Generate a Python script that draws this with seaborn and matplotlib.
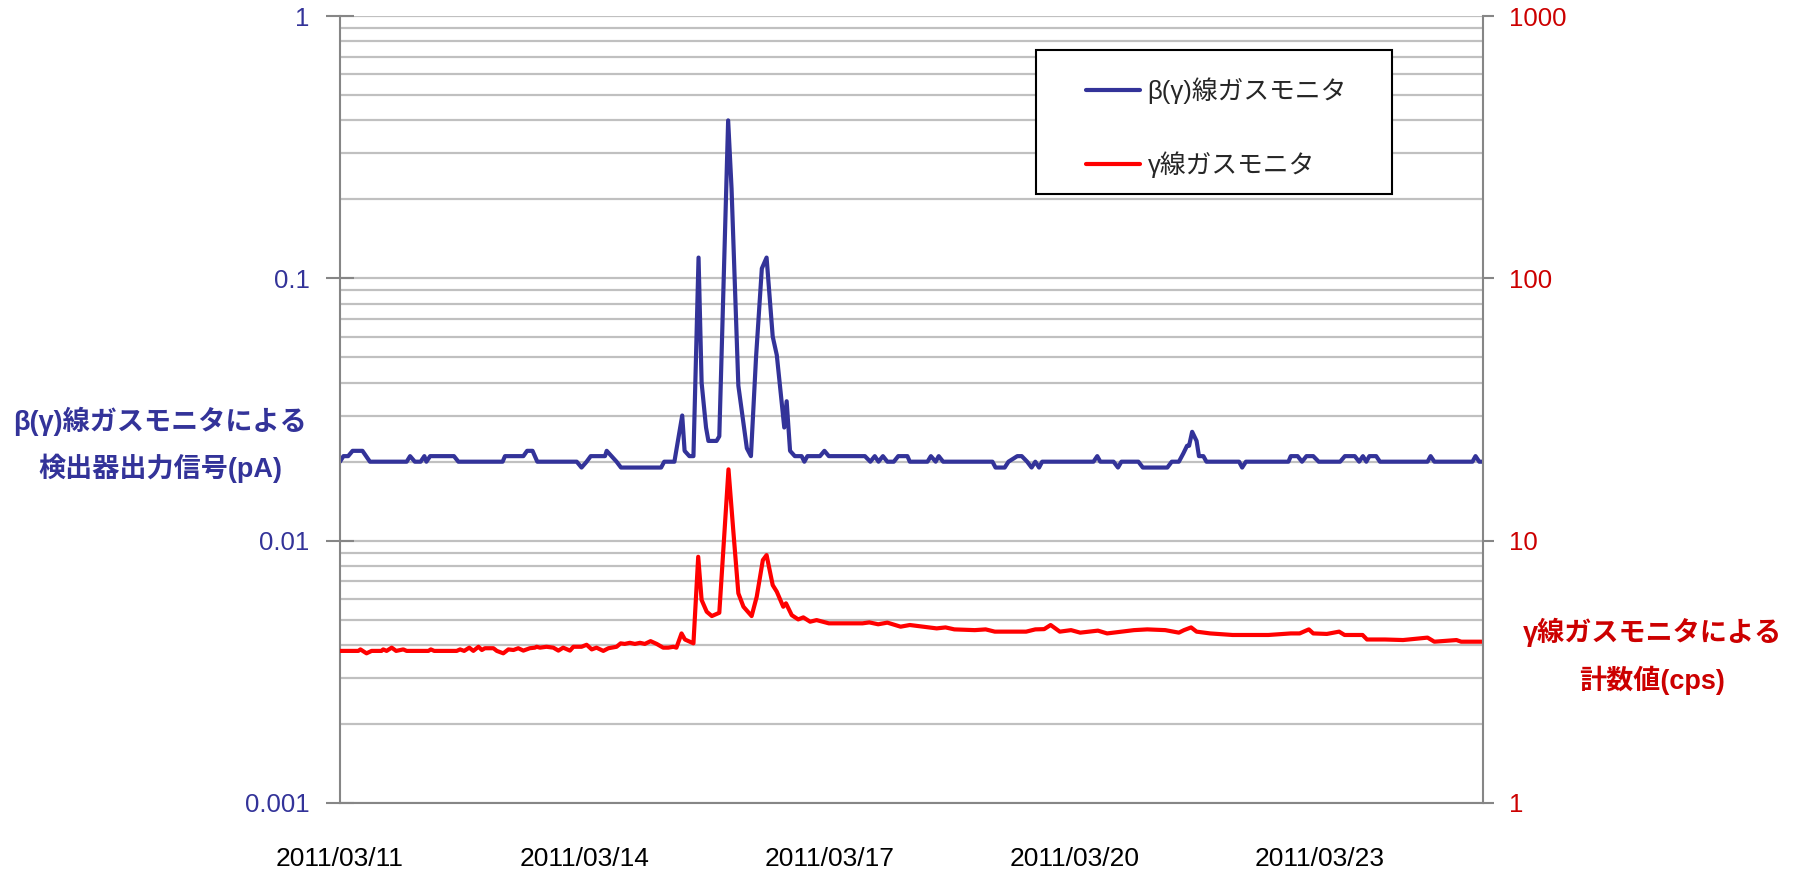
import numpy as np
import pandas as pd
import matplotlib
matplotlib.use('Agg')
import matplotlib.pyplot as plt
import matplotlib.dates as mdates
import matplotlib.ticker as mticker
from matplotlib.patches import Rectangle
import seaborn as sns

# ---------------- data ----------------
start = '2011-03-11 00:00'
end = '2011-03-25 00:00'

beta_hours = [0, 1.0, 2.4, 3.7, 6.6, 8.8, 19.6, 20.6, 22.0, 23.7, 24.8, 25.4, 26.5, 33.5, 34.8,
              47.8, 48.5, 53.9, 55.0, 56.6, 58.0, 69.6, 71.0, 72.5, 73.7, 77.9, 78.4, 79.8, 81.3,
              82.6, 94.4, 95.3, 98.3, 100.6, 101.3, 102.7, 103.9, 105.4, 106.3, 107.6, 108.3,
              110.7, 111.5, 114.1, 115.1, 117.1, 118.6, 119.6, 120.8, 122.3, 124.0, 125.4, 127.2,
              128.4, 129.8, 130.6, 131.3, 132.3, 133.7, 135.7, 136.5, 137.4, 141.1, 142.4, 143.7,
              154.3, 155.9, 157.2, 158.3, 159.6, 160.9, 162.8, 164.1, 166.8, 167.5, 172.7, 173.7,
              175.1, 176.0, 177.3, 191.8, 192.7, 195.4, 196.5, 199.1, 200.4, 202.0, 203.3, 204.4,
              205.5, 206.4, 221.5, 222.6, 223.5, 227.4, 228.7, 229.7, 234.7, 236.0, 243.2, 244.5,
              246.6, 247.9, 249.0, 249.6, 250.5, 251.8, 252.5, 253.8, 254.7, 264.3, 265.2, 266.3,
              278.8, 279.5, 281.5, 282.8, 284.1, 286.1, 287.7, 294.0, 295.4, 298.3, 299.6, 300.7,
              301.7, 302.6, 304.6, 305.7, 319.7, 320.6, 321.7, 332.9, 333.8, 334.9, 336.0]
beta_values = [0.020, 0.021, 0.021, 0.022, 0.022, 0.020, 0.020, 0.021, 0.020, 0.020, 0.021, 0.020,
               0.021, 0.021, 0.020, 0.020, 0.021, 0.021, 0.022, 0.022, 0.020, 0.020, 0.019, 0.020,
               0.021, 0.021, 0.022, 0.021, 0.020, 0.019, 0.019, 0.020, 0.020, 0.030, 0.022, 0.021,
               0.021, 0.120, 0.040, 0.027, 0.024, 0.024, 0.025, 0.40, 0.22, 0.039, 0.028, 0.0225,
               0.021, 0.050, 0.109, 0.120, 0.060, 0.051, 0.034, 0.027, 0.034, 0.022, 0.021, 0.021,
               0.020, 0.021, 0.021, 0.022, 0.021, 0.021, 0.020, 0.021, 0.020, 0.021, 0.020, 0.020,
               0.021, 0.021, 0.020, 0.020, 0.021, 0.020, 0.021, 0.020, 0.020, 0.019, 0.019, 0.020,
               0.021, 0.021, 0.020, 0.019, 0.020, 0.019, 0.020, 0.020, 0.021, 0.020, 0.020, 0.019,
               0.020, 0.020, 0.019, 0.019, 0.020, 0.020, 0.0215, 0.023, 0.023, 0.026, 0.024, 0.021,
               0.021, 0.020, 0.020, 0.019, 0.020, 0.020, 0.021, 0.021, 0.020, 0.021, 0.021, 0.020,
               0.020, 0.021, 0.021, 0.020, 0.021, 0.020, 0.021, 0.021, 0.020, 0.020, 0.021, 0.020,
               0.020, 0.021, 0.020, 0.020]

gamma_hours = [0, 5.4, 6.0, 7.8, 9.3, 12.2, 12.7, 13.7, 15.2, 16.5, 18.6, 19.6, 26.0, 26.7, 27.7,
               34.3, 35.3, 36.5, 38.0, 39.2, 40.7, 41.7, 42.6, 45.1, 46.1, 48.0, 49.5, 51.0, 52.4,
               53.9, 55.8, 57.3, 57.8, 58.8, 60.7, 62.7, 64.2, 65.6, 67.6, 68.6, 71.0, 72.5, 74.0,
               75.4, 77.4, 78.9, 81.3, 82.5, 83.7, 85.2, 86.7, 88.2, 89.6, 91.3, 93.1, 95.0, 96.5,
               98.0, 98.9, 100.4, 101.4, 103.9, 105.3, 106.3, 107.8, 109.3, 111.5, 114.2, 115.6,
               117.1, 118.6, 121.0, 122.5, 124.3, 125.4, 127.2, 128.4, 130.3, 131.1, 132.8, 134.7,
               136.2, 138.2, 140.1, 141.1, 143.7, 153.6, 155.6, 158.2, 160.9, 164.8, 167.5, 171.4,
               175.4, 178.0, 180.6, 186.6, 189.8, 192.5, 201.7, 204.4, 207.0, 208.9, 211.6, 214.9,
               217.6, 222.8, 225.5, 233.4, 237.3, 242.6, 246.6, 248.1, 250.2, 251.8, 255.8, 262.4,
               272.9, 279.5, 282.1, 284.8, 286.1, 290.1, 293.7, 295.3, 300.6, 301.9, 307.2, 312.5,
               319.7, 321.7, 328.2, 329.6, 336.0]
gamma_values = [3.80, 3.80, 3.85, 3.72, 3.80, 3.80, 3.85, 3.80, 3.91, 3.80, 3.85, 3.80, 3.80, 3.85,
                3.80, 3.80, 3.85, 3.80, 3.91, 3.80, 3.94, 3.83, 3.89, 3.89, 3.80, 3.72, 3.85, 3.83,
                3.89, 3.81, 3.89, 3.91, 3.94, 3.91, 3.94, 3.91, 3.81, 3.91, 3.81, 3.94, 3.94, 4.01,
                3.85, 3.91, 3.80, 3.89, 3.94, 4.06, 4.04, 4.08, 4.04, 4.08, 4.04, 4.14, 4.04, 3.91,
                3.91, 3.94, 3.91, 4.43, 4.20, 4.06, 8.68, 5.94, 5.36, 5.16, 5.31, 18.7, 10.97, 6.30,
                5.60, 5.16, 6.11, 8.43, 8.81, 6.77, 6.39, 5.60, 5.77, 5.20, 5.01, 5.10, 4.91, 4.98,
                4.94, 4.84, 4.84, 4.88, 4.80, 4.87, 4.70, 4.77, 4.70, 4.63, 4.67, 4.59, 4.56, 4.59,
                4.50, 4.50, 4.59, 4.60, 4.77, 4.50, 4.56, 4.46, 4.54, 4.43, 4.56, 4.59, 4.56, 4.46,
                4.56, 4.67, 4.50, 4.43, 4.37, 4.37, 4.43, 4.43, 4.59, 4.43, 4.41, 4.50, 4.37, 4.37,
                4.20, 4.20, 4.18, 4.27, 4.12, 4.18, 4.12, 4.12]

x_tick_dates = ['2011-03-11', '2011-03-14', '2011-03-17', '2011-03-20', '2011-03-23']
x_tick_labels = ['2011/03/11', '2011/03/14', '2011/03/17', '2011/03/20', '2011/03/23']
left_tick_values = [0.001, 0.01, 0.1, 1]
left_tick_labels = ['0.001', '0.01', '0.1', '1']
right_tick_values = [1, 10, 100, 1000]
right_tick_labels = ['1', '10', '100', '1000']

beta_name = 'β(γ)線ガスモニタ'
gamma_name = 'γ線ガスモニタ'
left_label_lines = ['β(γ)線ガスモニタによる', '検出器出力信号(pA)']
right_label_lines = ['γ線ガスモニタによる', '計数値(cps)']

# ---------------- styling ----------------
sns.set_style('white')
plt.rcParams['font.family'] = ['Liberation Sans', 'Noto Sans CJK JP', 'DejaVu Sans']

BLUE = '#333399'
RED = '#ff0000'
DARKRED = '#cc0000'
AXGRAY = '#868686'
GRIDGRAY = '#c0c0c0'

t0 = pd.Timestamp(start)
df_beta = pd.DataFrame({'time': t0 + pd.to_timedelta(beta_hours, unit='h'), 'value': beta_values})
df_gamma = pd.DataFrame({'time': t0 + pd.to_timedelta(gamma_hours, unit='h'), 'value': gamma_values})

W, H = 1794, 873
fig = plt.figure(figsize=(W / 100, H / 100), dpi=100)
ax = fig.add_axes([340 / W, 1 - 803 / H, 1143 / W, 787 / H])
ax2 = ax.twinx()

sns.lineplot(data=df_beta, x='time', y='value', ax=ax, color=BLUE, linewidth=3.0,
             label=beta_name, legend=False, estimator=None)
sns.lineplot(data=df_gamma, x='time', y='value', ax=ax2, color=RED, linewidth=3.0,
             label=gamma_name, legend=False, estimator=None)

for a in (ax, ax2):
    a.set_yscale('log')
    a.set_xlabel('')
    a.set_ylabel('')
ax.set_ylim(left_tick_values[0], left_tick_values[-1])
ax2.set_ylim(right_tick_values[0], right_tick_values[-1])
ax.set_xlim(pd.Timestamp(start), pd.Timestamp(end))

# x axis
ax.set_xticks(pd.to_datetime(x_tick_dates), labels=x_tick_labels)
ax.xaxis.set_minor_locator(mdates.DayLocator())
ax.tick_params(axis='x', which='major', direction='inout', length=16, width=1.5, color=AXGRAY,
               labelsize=19, pad=24, labelcolor='black')
ax.tick_params(axis='x', which='minor', direction='in', length=8, width=1.5, color=AXGRAY)

# left y axis
ax.set_yticks(left_tick_values, labels=left_tick_labels)
ax.yaxis.set_minor_locator(mticker.LogLocator(base=10, subs=np.arange(2, 10)))
ax.yaxis.set_minor_formatter(mticker.NullFormatter())
ax.tick_params(axis='y', which='major', direction='inout', length=20, width=1.5, color=AXGRAY,
               labelsize=18.5, pad=12, labelcolor=BLUE, left=True, right=False)
ax.tick_params(axis='y', which='minor', length=0)
ax.grid(axis='y', which='both', color=GRIDGRAY, linewidth=1.6)
ax.grid(axis='x', which='both', visible=False)
ax.set_axisbelow(True)

# right y axis
ax2.set_yticks(right_tick_values, labels=right_tick_labels)
ax2.yaxis.set_minor_formatter(mticker.NullFormatter())
ax2.tick_params(axis='y', which='major', direction='out', length=8, width=1.5, color=AXGRAY,
                labelsize=18.5, pad=11, labelcolor=DARKRED)
ax2.tick_params(axis='y', which='minor', length=0)
ax2.grid(False)

for s in ('top', 'right'):
    ax.spines[s].set_visible(False)
for s in ('left', 'bottom'):
    ax.spines[s].set_color(AXGRAY)
    ax.spines[s].set_linewidth(1.5)
for s in ('top', 'left', 'bottom'):
    ax2.spines[s].set_visible(False)
ax2.spines['right'].set_color(AXGRAY)
ax2.spines['right'].set_linewidth(1.5)

# legend with a square black frame
frame = Rectangle((0.609, 0.774), 0.3115, 0.183, transform=ax2.transAxes, fill=True,
                  facecolor='white', edgecolor='black', linewidth=1.5, zorder=5)
ax2.add_patch(frame)
handles = ax.get_lines()[:1] + ax2.get_lines()[:1]
leg = ax2.legend(handles, [beta_name, gamma_name], loc='upper left',
                 bbox_to_anchor=(0.6527, 0.922), frameon=False, fontsize=18.5,
                 handlelength=2.1, handletextpad=0.3, borderpad=0, borderaxespad=0,
                 labelspacing=1.85)
leg.set_zorder(6)

# axis titles (horizontal, beside the axes)
left_y = [421, 468]
for txt, yy in zip(left_label_lines, left_y):
    fig.text(160 / W, 1 - yy / H, txt, ha='center', va='center', fontsize=19.5,
             fontweight='bold', color=BLUE)
right_y = [632, 680]
for txt, yy in zip(right_label_lines, right_y):
    fig.text(1652 / W, 1 - yy / H, txt, ha='center', va='center', fontsize=19.5,
             fontweight='bold', color=DARKRED)

fig.savefig('out.png', dpi=100)
